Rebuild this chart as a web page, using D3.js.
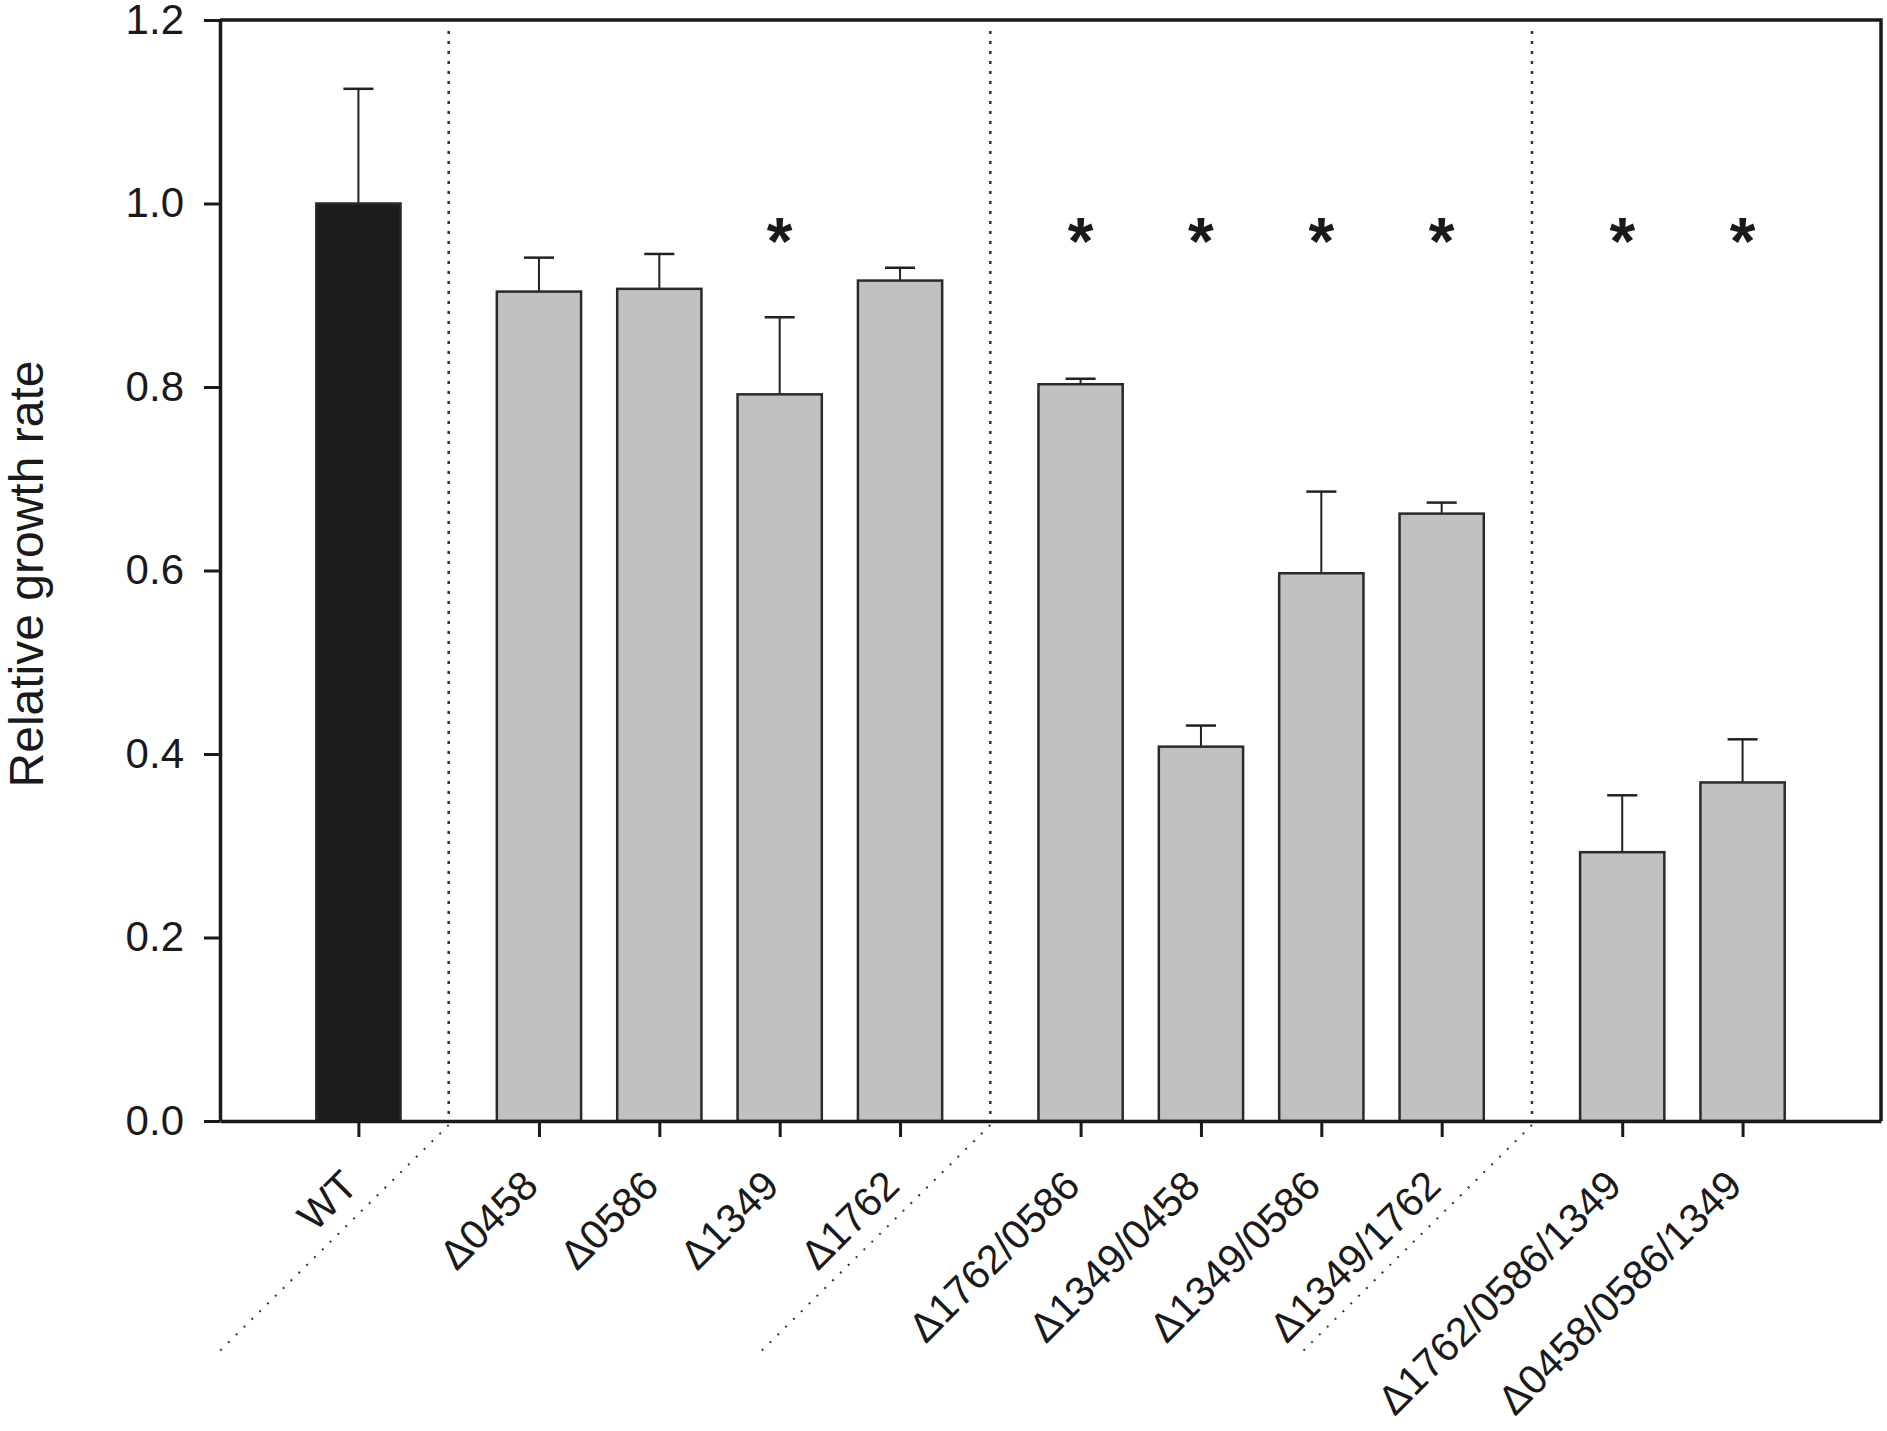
<!DOCTYPE html>
<html>
<head>
<meta charset="utf-8">
<script src="https://cdn.jsdelivr.net/npm/d3@7"></script>
<style>
  body { margin: 0; background: #fff; }
  svg { display: block; font-family: "Liberation Sans", Arial, Helvetica, sans-serif; }
</style>
</head>
<body>
<svg id="chart"></svg>
<script>
// Strains in drawing order
const strains = ["WT", "Δ0458", "Δ0586", "Δ1349", "Δ1762",
    "Δ1762/0586", "Δ1349/0458", "Δ1349/0586", "Δ1349/1762",
    "Δ1762/0586/1349", "Δ0458/0586/1349"];
// Group of each strain: wild type, single, double, triple mutants
const groups = [0, 1, 1, 1, 1, 2, 2, 2, 2, 3, 3];
// Mean relative growth rate
const growth = [1.000, 0.904, 0.907, 0.792, 0.916, 0.803, 0.408, 0.597, 0.662, 0.293, 0.369];
// Error (only the upper whisker is drawn)
const errors = [0.125, 0.037, 0.038, 0.084, 0.014, 0.006, 0.023, 0.089, 0.012, 0.062, 0.047];
// Asterisk = significantly different from WT
const significant = [false, false, false, true, false, true, true, true, true, true, true];
const yTicks = [0, 0.2, 0.4, 0.6, 0.8, 1.0, 1.2];
const starLevel = 0.972;

const width = 1887;
const height = 1431;
const margin = { top: 20, right: 6, bottom: 310, left: 220 };

const svg = d3.select("#chart")
    .attr("width", width)
    .attr("height", height);

// a half-slot gap between groups
const slots = strains.map((s, i) => i + 0.5 * groups[i]);

const x = d3.scaleLinear()
    .domain([-1.15, 12.65])
    .range([margin.left, width - margin.right]);

const y = d3.scaleLinear()
    .domain([0, 1.2])
    .range([height - margin.bottom, margin.top]);

const slotW = x(1) - x(0);
const barW = slotW * 0.7;
const capW = slotW * 0.25;

// Dotted separators between groups, running on below the axis
const dividers = [];
slots.forEach((s, i) => {
    if (i > 0 && groups[i] !== groups[i - 1]) dividers.push((slots[i - 1] + s) / 2);
});

const sep = svg.append("g")
    .attr("fill", "none")
    .attr("stroke", "#333");

sep.selectAll("line.v")
    .data(dividers)
    .enter().append("line")
    .attr("class", "v")
    .attr("x1", d => x(d))
    .attr("x2", d => x(d))
    .attr("y1", y(1.188))
    .attr("y2", y(0))
    .attr("stroke-width", 2.5)
    .attr("stroke-dasharray", "3,7");

sep.selectAll("line.d")
    .data(dividers)
    .enter().append("line")
    .attr("class", "d")
    .attr("x1", d => x(d))
    .attr("y1", y(0) + 4)
    .attr("x2", d => x(d) - 231)
    .attr("y2", y(0) + 232)
    .attr("stroke-width", 2)
    .attr("stroke-dasharray", "2,9");

// Error bars (upper only)
const err = svg.append("g")
    .attr("stroke", "#222")
    .attr("stroke-width", 2)
    .selectAll("g")
    .data(strains)
    .enter().append("g");

err.append("line")
    .attr("x1", (d, i) => x(slots[i]))
    .attr("x2", (d, i) => x(slots[i]))
    .attr("y1", (d, i) => y(growth[i]))
    .attr("y2", (d, i) => y(growth[i] + errors[i]));

err.append("line")
    .attr("x1", (d, i) => x(slots[i]) - capW / 2)
    .attr("x2", (d, i) => x(slots[i]) + capW / 2)
    .attr("y1", (d, i) => y(growth[i] + errors[i]))
    .attr("y2", (d, i) => y(growth[i] + errors[i]))
    .attr("stroke-width", 2.5);

// Bars
svg.append("g")
    .selectAll("rect")
    .data(strains)
    .enter().append("rect")
    .attr("x", (d, i) => x(slots[i]) - barW / 2)
    .attr("y", (d, i) => y(growth[i]))
    .attr("width", barW)
    .attr("height", (d, i) => y(0) - y(growth[i]))
    .attr("fill", (d, i) => groups[i] === 0 ? "#1c1c1c" : "#c1c1c1")
    .attr("stroke", "#2a2a2a")
    .attr("stroke-width", 2.5);

// Asterisks
svg.append("g")
    .selectAll("text")
    .data(strains.filter((d, i) => significant[i]))
    .enter().append("text")
    .attr("x", d => x(slots[strains.indexOf(d)]))
    .attr("y", y(starLevel) + 35)
    .attr("text-anchor", "middle")
    .attr("font-size", "66px")
    .attr("font-weight", "bold")
    .attr("fill", "#1a1a1a")
    .text("*");

// Frame (top and right)
svg.append("path")
    .attr("d", `M${x.range()[0]},${y(1.2)}H${x.range()[1]}V${y(0)}`)
    .attr("fill", "none")
    .attr("stroke", "#1a1a1a")
    .attr("stroke-width", 3.5);

// Y axis
const yAxis = svg.append("g")
    .attr("transform", `translate(${margin.left},0)`)
    .call(d3.axisLeft(y)
        .tickValues(yTicks)
        .tickFormat(d3.format(".1f"))
        .tickSize(16)
        .tickSizeOuter(0)
        .tickPadding(20));

yAxis.select(".domain").attr("stroke-width", 3.5).attr("stroke", "#1a1a1a");
yAxis.selectAll(".tick line").attr("stroke-width", 3).attr("stroke", "#1a1a1a");
yAxis.selectAll(".tick text")
    .attr("font-size", "42px")
    .attr("font-family", "Liberation Sans, Arial, sans-serif")
    .attr("fill", "#1a1a1a");

// X axis
const xAxis = svg.append("g")
    .attr("transform", `translate(0,${y(0)})`)
    .call(d3.axisBottom(x)
        .tickValues(slots)
        .tickFormat((d, i) => strains[i])
        .tickSize(16)
        .tickSizeOuter(0));

xAxis.select(".domain").attr("stroke-width", 3.5).attr("stroke", "#1a1a1a");
xAxis.selectAll(".tick line").attr("stroke-width", 3).attr("stroke", "#1a1a1a");
xAxis.selectAll(".tick text")
    .attr("x", 0)
    .attr("y", 0)
    .attr("dy", 0)
    .attr("transform", "translate(1,67) rotate(-45)")
    .attr("text-anchor", "end")
    .attr("font-size", "41px")
    .attr("font-family", "Liberation Sans, Arial, sans-serif")
    .attr("fill", "#1a1a1a");

// Y label
svg.append("text")
    .attr("transform", `translate(43,574) rotate(-90)`)
    .attr("text-anchor", "middle")
    .attr("font-size", "48px")
    .attr("fill", "#1a1a1a")
    .text("Relative growth rate");
</script>
</body>
</html>
